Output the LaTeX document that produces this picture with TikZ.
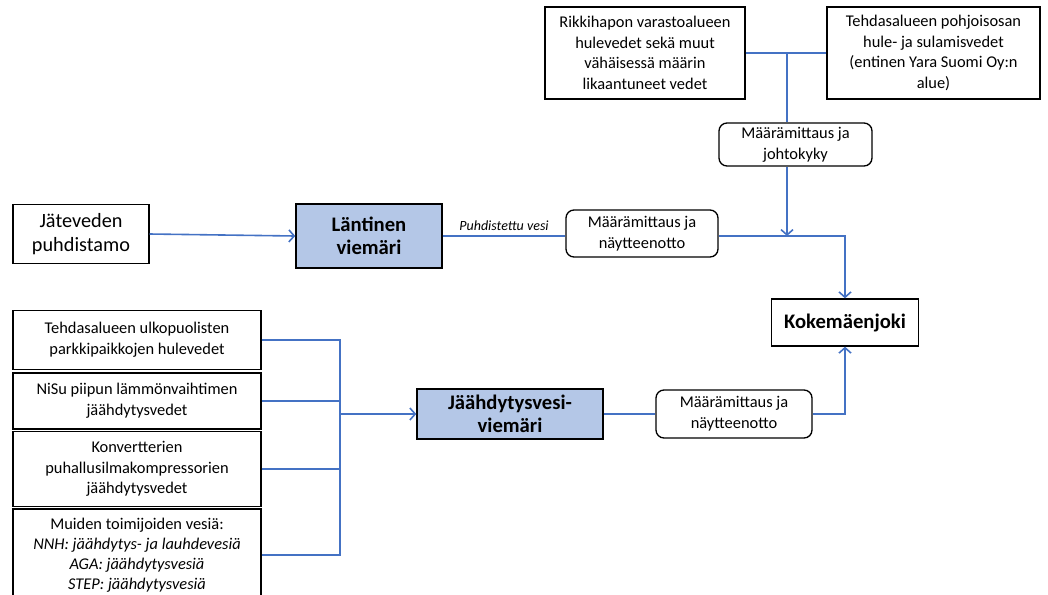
\documentclass[tikz,border=0pt]{standalone}
\usepackage{fontspec}
\setmainfont{Carlito}
\usetikzlibrary{arrows.meta}

\definecolor{pipeblue}{RGB}{68,114,196}
\definecolor{sewerfill}{RGB}{180,199,231}

\tikzset{every picture/.style={line width=0.75pt}}
\tikzset{
  srcbox/.style={draw, line width=1pt, align=center, inner sep=0pt, font=\fontsize{12.3}{15.5}\selectfont},
  bigbox/.style={srcbox, font=\fontsize{15.2}{18}\selectfont},
  sewer/.style={bigbox, fill=sewerfill, line width=1.1pt, font=\fontsize{15.5}{17.5}\selectfont\bfseries},
  meter/.style={srcbox, rounded corners=6pt},
  pipe/.style={draw=pipeblue, line width=1.2pt},
  flow/.style={pipe, -{Straight Barb[length=4pt,width=9pt]}}
}

\begin{document}
\begin{tikzpicture}[x=0.75pt,y=0.75pt,yscale=-1,xscale=1]
\useasboundingbox (0,0) rectangle (1048,594);

%Shape: top sources
\node (rikki) at (645,53) [srcbox, minimum width=150pt, minimum height=69pt] {Rikkihapon varastoalueen\\hulevedet sekä muut\\vähäisessä määrin\\likaantuneet vedet};
\node (tehd) at (933.5,53) [srcbox, minimum width=159.75pt, minimum height=69pt] {Tehdasalueen pohjoisosan\\hule- ja sulamisvedet\\(entinen Yara Suomi Oy:n\\alue)};
\node (mj) at (795.5,144.5) [meter, minimum width=114.75pt, minimum height=32.25pt] {Määrämittaus ja\\johtokyky};

%Shape: west sewer
\node (jvp) at (81,234) [bigbox, minimum width=102pt, minimum height=44.25pt] {Jäteveden\\puhdistamo};
\node (lant) at (369,236) [sewer, minimum width=109.5pt, minimum height=48pt] {Läntinen\\viemäri};
\node (mn1) at (642,233.5) [meter, minimum width=114pt, minimum height=35.25pt] {Määrämittaus ja\\näytteenotto};

%Shape: river
\node (koke) at (845,322.5) [sewer, fill=white, line width=1pt, minimum width=110.25pt, minimum height=35.25pt] {Kokemäenjoki};

%Shape: cooling water sources
\node (b1) at (137,340) [srcbox, minimum width=186pt, minimum height=44.25pt] {Tehdasalueen ulkopuolisten\\parkkipaikkojen hulevedet};
\node (b2) at (137,401) [srcbox, minimum width=186pt, minimum height=42pt] {NiSu piipun lämmönvaihtimen\\jäähdytysvedet};
\node (b3) at (137,469) [srcbox, minimum width=186pt, minimum height=56.25pt] {Konvertterien\\puhallusilmakompressorien\\jäähdytysvedet};
\node (b4) at (137,555) [srcbox, font=\fontsize{12.3}{15}\selectfont, minimum width=186pt, minimum height=69pt] {Muiden toimijoiden vesiä:\\\textit{NNH: jäähdytys- ja lauhdevesiä}\\\textit{AGA: jäähdytysvesiä}\\\textit{STEP: jäähdytysvesiä}};
\node (jv) at (510,414) [sewer, minimum width=139.5pt, minimum height=37.5pt] {Jäähdytysvesi-\\viemäri};
\node (mn2) at (734,414) [meter, minimum width=117pt, minimum height=36pt] {Määrämittaus ja\\näytteenotto};

% Connectors
\coordinate (j1) at (787,53);
\coordinate (bus) at (340,340);
\draw [pipe] (rikki.east) -- (tehd.west);
\draw [pipe] (j1) -- (j1 |- mj.north);
\draw [flow] (j1 |- mj.south) -- (j1 |- lant.east);
\draw [flow] (jvp.east) -- (lant.west);
\draw [pipe] (lant.east) -- node [above, font=\fontsize{10.5}{12}\selectfont\itshape, text=black] {Puhdistettu vesi} (lant.east -| mn1.west);
\draw [flow] (mn1.east |- lant.east) -| (koke.north);

\draw [pipe] (b1.east) -- (bus) -- (bus |- b4.east) -- (b4.east);
\draw [pipe] (b2.east) -- (bus |- b2.east);
\draw [pipe] (b3.east) -- (bus |- b3.east);
\draw [flow] (bus |- jv.west) -- (jv.west);
\draw [pipe] (jv.east) -- (jv.east -| mn2.west);
\draw [flow] (mn2.east) -| (koke.south);

\end{tikzpicture}
\end{document}
